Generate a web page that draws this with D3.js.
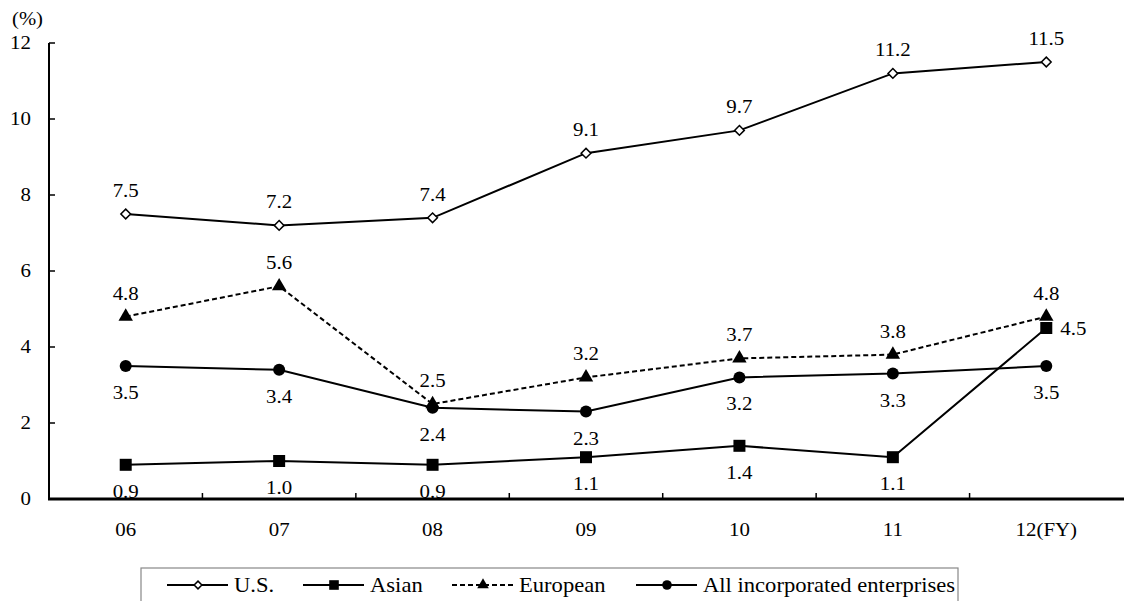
<!DOCTYPE html>
<html><head><meta charset="utf-8">
<script src="https://cdn.jsdelivr.net/npm/d3@7/dist/d3.min.js"></script>
<style>body{margin:0;background:#fff;} svg, svg text{font-family:"Liberation Serif","Times New Roman",Times,"DejaVu Serif",serif !important;}</style>
</head><body><svg id="c" width="1124" height="601"></svg>
<script>
const categories = ["06","07","08","09","10","11","12(FY)"];
const usValues = [7.5, 7.2, 7.4, 9.1, 9.7, 11.2, 11.5];
const asianValues = [0.9, 1.0, 0.9, 1.1, 1.4, 1.1, 4.5];
const europeanValues = [4.8, 5.6, 2.5, 3.2, 3.7, 3.8, 4.8];
const allValues = [3.5, 3.4, 2.4, 2.3, 3.2, 3.3, 3.5];
const yTicks = [0, 2, 4, 6, 8, 10, 12];
const seriesNames = ["U.S.", "Asian", "European", "All incorporated enterprises"];

const SX = 1.1; // horizontal stretch of the reference's text
const svg = d3.select("#c");
const x = d3.scaleBand().domain(categories).range([49, 1123]);
const y = d3.scaleLinear().domain([0, 12]).range([499, 43]);
const cx = d => x(d) + x.bandwidth()/2;

function addText(g, str, px, py, size, anchor, sx) {
  return g.append("text").attr("transform", `translate(${px},${py}) scale(${sx || SX},1)`)
    .attr("font-size", size).attr("text-anchor", anchor || "middle").attr("fill", "#000").text(str);
}

const series = [
  {name: seriesNames[0], values: usValues, marker: "diamond", dash: null, pos: "above"},
  {name: seriesNames[1], values: asianValues, marker: "square", dash: null, pos: "below"},
  {name: seriesNames[2], values: europeanValues, marker: "triangle", dash: "5,3", pos: "above"},
  {name: seriesNames[3], values: allValues, marker: "circle", dash: null, pos: "below"}
];

// y axis
const gy = svg.append("g");
gy.append("line").attr("x1", 49).attr("x2", 49).attr("y1", y(12)).attr("y2", y(0)).attr("stroke", "#000").attr("stroke-width", 2);
yTicks.forEach(t => {
  gy.append("line").attr("x1", 49).attr("x2", 55).attr("y1", y(t)).attr("y2", y(t)).attr("stroke", "#000").attr("stroke-width", 1.5);
  addText(gy, String(t), 31, y(t) + 6, 19, "end");
});
// x axis
const gx = svg.append("g");
gx.append("line").attr("x1", 48).attr("x2", 1124).attr("y1", 499).attr("y2", 499).attr("stroke", "#000").attr("stroke-width", 3);
categories.slice(1).forEach(c => {
  gx.append("line").attr("x1", x(c)).attr("x2", x(c)).attr("y1", 499).attr("y2", 493).attr("stroke", "#000").attr("stroke-width", 1.5);
});
categories.forEach(c => addText(gx, c, cx(c), 536, 19, "middle"));

addText(svg, "(%)", 12, 25, 18, "start", 1.15);

function drawMarker(g, type, px, py, scale) {
  const s = scale || 1;
  if (type === "diamond") {
    g.append("path").attr("d", d3.symbol(d3.symbolDiamond2, 60*s*s)()).attr("transform", `translate(${px},${py})`)
      .attr("fill", "#fff").attr("stroke", "#000").attr("stroke-width", 1.5);
  } else if (type === "square") {
    g.append("rect").attr("x", px-6*s).attr("y", py-6*s).attr("width", 12*s).attr("height", 12*s).attr("fill", "#000");
  } else if (type === "triangle") {
    g.append("path").attr("d", d3.symbol(d3.symbolTriangle, 90*s*s)()).attr("transform", `translate(${px},${py})`).attr("fill", "#000");
  } else {
    g.append("circle").attr("cx", px).attr("cy", py).attr("r", 6*s).attr("fill", "#000");
  }
}

const line = d3.line().x((d, i) => cx(categories[i])).y(d => y(d));
series.forEach(s => {
  svg.append("path").datum(s.values).attr("d", line).attr("fill", "none").attr("stroke", "#000")
    .attr("stroke-width", 2).attr("stroke-dasharray", s.dash);
});
series.forEach(s => {
  const g = svg.append("g");
  s.values.forEach((v, i) => drawMarker(g, s.marker, cx(categories[i]), y(v)));
});
series.forEach(s => {
  const g = svg.append("g");
  s.values.forEach((v, i) => {
    let px = cx(categories[i]), py, anchor = "middle";
    if (s.name === "Asian" && i === 6) { px += 14; py = y(v) + 7; anchor = "start"; }
    else if (s.pos === "above") py = y(v) - 17;
    else py = y(v) + 33;
    addText(g, d3.format(".1f")(v), px, py, 19, anchor);
  });
});

// legend
const lg = svg.append("g");
lg.append("rect").attr("x", 141).attr("y", 568).attr("width", 817).attr("height", 60)
  .attr("fill", "none").attr("stroke", "#888").attr("stroke-width", 1.2);
const legendX = [167, 303, 452, 636];
series.forEach((s, i) => {
  const x0 = legendX[i], ly = 585;
  lg.append("line").attr("x1", x0).attr("x2", x0 + 61).attr("y1", ly).attr("y2", ly)
    .attr("stroke", "#000").attr("stroke-width", 2).attr("stroke-dasharray", s.dash);
  drawMarker(lg, s.marker, x0 + 31, ly, 0.8);
  addText(lg, s.name, x0 + 67, ly + 7, 20, "start", 1.13);
});
</script></body></html>
